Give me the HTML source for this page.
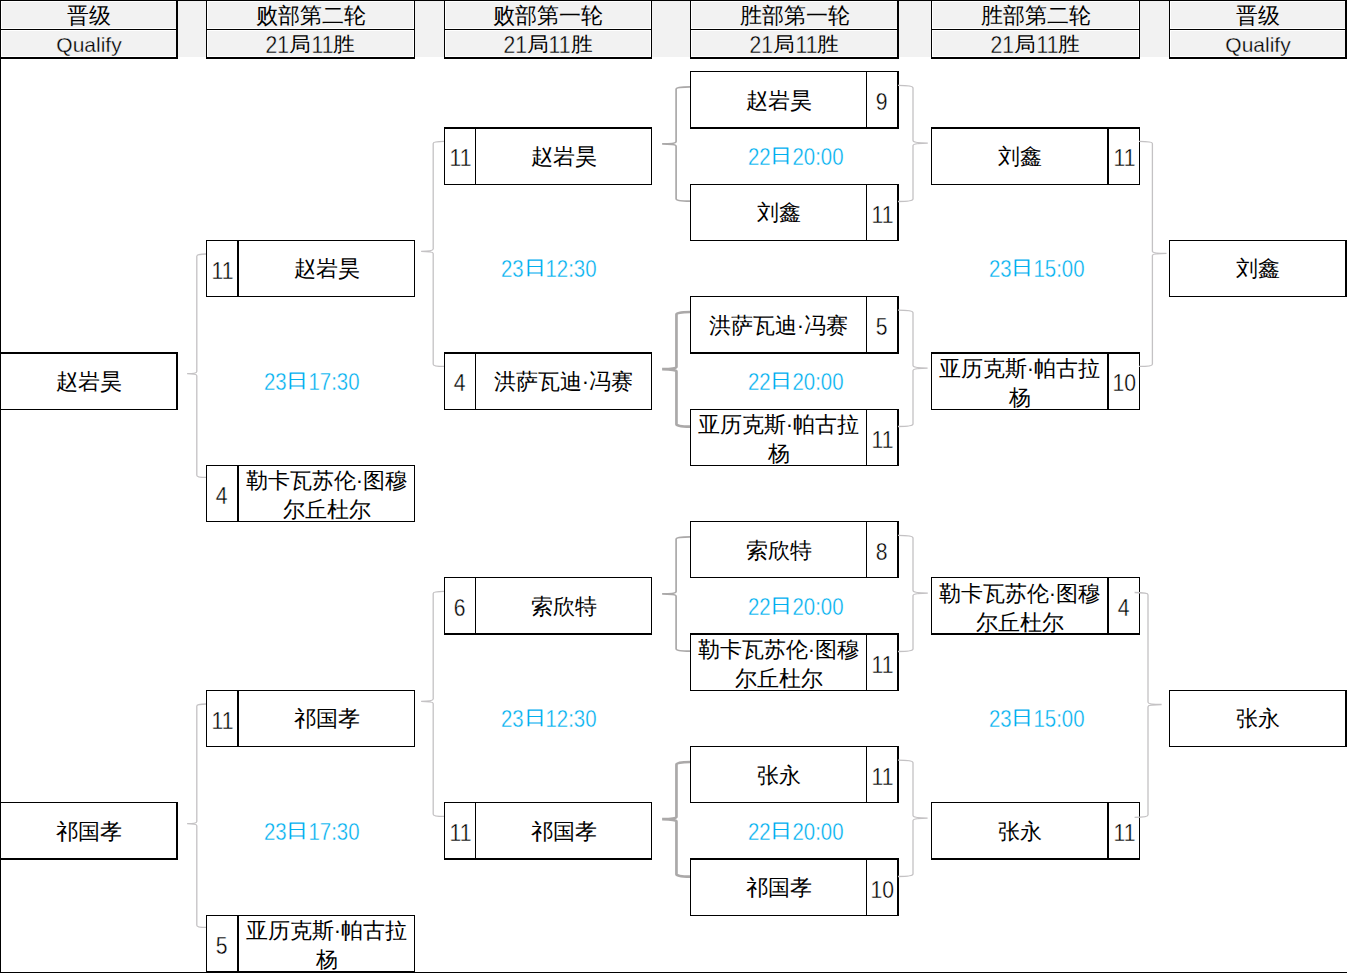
<!DOCTYPE html>
<html><head><meta charset="utf-8"><style>
html,body{margin:0;padding:0;background:#fff;}
body{width:1347px;height:973px;position:relative;overflow:hidden;font-family:"Liberation Sans",sans-serif;color:#000;}
.l{position:absolute;} .cj{display:inline-block;} .hc{transform:translateY(-1px) scaleY(0.92);} .tc{font-size:22px;transform:translateY(-2px) scaleY(0.86);} .dg{display:inline-block;-webkit-text-stroke:0.35px #fff;}
.t{position:absolute;display:flex;align-items:center;justify-content:center;text-align:center;white-space:normal;}
.ht{font-size:22px;padding-top:2px;box-sizing:border-box;}
.ht2{padding-top:4px;box-sizing:border-box;} .q{font-size:21px;-webkit-text-stroke:0.3px #f2f2f2;} .d{font-size:22px;} .d .dg{-webkit-text-stroke-color:#f2f2f2;}
.nm{font-size:22px;line-height:29px;}
.sc{font-size:22px;}
.tm{font-size:21px;color:#00b0f0;}
</style></head><body>
<div style="position:absolute;left:1px;top:1px;width:1345px;height:56px;background:#f2f2f2"></div><div class="l" style="left:0px;top:0px;width:1347px;height:1px;background:#000"></div><div class="l" style="left:1px;top:1px;width:176px;height:56px;border:1px solid #fff;box-sizing:border-box"></div><div class="l" style="left:1px;top:28px;width:176px;height:3px;background:#fff"></div><div class="l" style="left:0px;top:0px;width:1px;height:59px;background:#000"></div><div class="l" style="left:176px;top:0px;width:2px;height:59px;background:#000"></div><div class="l" style="left:0px;top:29px;width:178px;height:1px;background:#000"></div><div class="l" style="left:0px;top:57px;width:178px;height:2px;background:#000"></div><div class="l" style="left:207px;top:1px;width:207px;height:56px;border:1px solid #fff;box-sizing:border-box"></div><div class="l" style="left:207px;top:28px;width:207px;height:3px;background:#fff"></div><div class="l" style="left:206px;top:0px;width:1px;height:59px;background:#000"></div><div class="l" style="left:414px;top:0px;width:1px;height:59px;background:#000"></div><div class="l" style="left:206px;top:29px;width:209px;height:1px;background:#000"></div><div class="l" style="left:206px;top:57px;width:209px;height:2px;background:#000"></div><div class="l" style="left:445px;top:1px;width:206px;height:56px;border:1px solid #fff;box-sizing:border-box"></div><div class="l" style="left:445px;top:28px;width:206px;height:3px;background:#fff"></div><div class="l" style="left:444px;top:0px;width:1px;height:59px;background:#000"></div><div class="l" style="left:651px;top:0px;width:1px;height:59px;background:#000"></div><div class="l" style="left:444px;top:29px;width:208px;height:1px;background:#000"></div><div class="l" style="left:444px;top:57px;width:208px;height:2px;background:#000"></div><div class="l" style="left:691px;top:1px;width:207px;height:56px;border:1px solid #fff;box-sizing:border-box"></div><div class="l" style="left:691px;top:28px;width:207px;height:3px;background:#fff"></div><div class="l" style="left:690px;top:0px;width:1px;height:59px;background:#000"></div><div class="l" style="left:897px;top:0px;width:2px;height:59px;background:#000"></div><div class="l" style="left:690px;top:29px;width:209px;height:1px;background:#000"></div><div class="l" style="left:690px;top:57px;width:209px;height:2px;background:#000"></div><div class="l" style="left:932px;top:1px;width:207px;height:56px;border:1px solid #fff;box-sizing:border-box"></div><div class="l" style="left:932px;top:28px;width:207px;height:3px;background:#fff"></div><div class="l" style="left:931px;top:0px;width:1px;height:59px;background:#000"></div><div class="l" style="left:1139px;top:0px;width:1px;height:59px;background:#000"></div><div class="l" style="left:931px;top:29px;width:209px;height:1px;background:#000"></div><div class="l" style="left:931px;top:57px;width:209px;height:2px;background:#000"></div><div class="l" style="left:1170px;top:1px;width:176px;height:56px;border:1px solid #fff;box-sizing:border-box"></div><div class="l" style="left:1170px;top:28px;width:176px;height:3px;background:#fff"></div><div class="l" style="left:1169px;top:0px;width:1px;height:59px;background:#000"></div><div class="l" style="left:1345px;top:0px;width:2px;height:59px;background:#000"></div><div class="l" style="left:1169px;top:29px;width:178px;height:1px;background:#000"></div><div class="l" style="left:1169px;top:57px;width:178px;height:2px;background:#000"></div><div class="l" style="left:0px;top:0px;width:1px;height:973px;background:#000"></div><div class="l" style="left:0px;top:972px;width:1347px;height:1px;background:#000"></div><div class="l" style="left:0px;top:352px;width:178px;height:2px;background:#000"></div><div class="l" style="left:0px;top:409px;width:178px;height:1px;background:#000"></div><div class="l" style="left:0px;top:352px;width:1px;height:58px;background:#000"></div><div class="l" style="left:176px;top:352px;width:2px;height:58px;background:#000"></div><div class="l" style="left:0px;top:802px;width:178px;height:1px;background:#000"></div><div class="l" style="left:0px;top:858px;width:178px;height:2px;background:#000"></div><div class="l" style="left:0px;top:802px;width:1px;height:58px;background:#000"></div><div class="l" style="left:176px;top:802px;width:2px;height:58px;background:#000"></div><div class="l" style="left:206px;top:240px;width:209px;height:1px;background:#000"></div><div class="l" style="left:206px;top:296px;width:209px;height:1px;background:#000"></div><div class="l" style="left:206px;top:240px;width:1px;height:57px;background:#000"></div><div class="l" style="left:414px;top:240px;width:1px;height:57px;background:#000"></div><div class="l" style="left:237px;top:240px;width:2px;height:57px;background:#000"></div><div class="l" style="left:206px;top:465px;width:209px;height:1px;background:#000"></div><div class="l" style="left:206px;top:521px;width:209px;height:1px;background:#000"></div><div class="l" style="left:206px;top:465px;width:1px;height:57px;background:#000"></div><div class="l" style="left:414px;top:465px;width:1px;height:57px;background:#000"></div><div class="l" style="left:237px;top:465px;width:2px;height:57px;background:#000"></div><div class="l" style="left:206px;top:690px;width:209px;height:1px;background:#000"></div><div class="l" style="left:206px;top:746px;width:209px;height:1px;background:#000"></div><div class="l" style="left:206px;top:690px;width:1px;height:57px;background:#000"></div><div class="l" style="left:414px;top:690px;width:1px;height:57px;background:#000"></div><div class="l" style="left:237px;top:690px;width:2px;height:57px;background:#000"></div><div class="l" style="left:206px;top:915px;width:209px;height:1px;background:#000"></div><div class="l" style="left:206px;top:971px;width:209px;height:2px;background:#000"></div><div class="l" style="left:206px;top:915px;width:1px;height:58px;background:#000"></div><div class="l" style="left:414px;top:915px;width:1px;height:58px;background:#000"></div><div class="l" style="left:237px;top:915px;width:2px;height:58px;background:#000"></div><div class="l" style="left:444px;top:127px;width:208px;height:2px;background:#000"></div><div class="l" style="left:444px;top:184px;width:208px;height:1px;background:#000"></div><div class="l" style="left:444px;top:127px;width:1px;height:58px;background:#000"></div><div class="l" style="left:651px;top:127px;width:1px;height:58px;background:#000"></div><div class="l" style="left:475px;top:128px;width:1px;height:57px;background:#000"></div><div class="l" style="left:444px;top:352px;width:208px;height:2px;background:#000"></div><div class="l" style="left:444px;top:409px;width:208px;height:1px;background:#000"></div><div class="l" style="left:444px;top:352px;width:1px;height:58px;background:#000"></div><div class="l" style="left:651px;top:352px;width:1px;height:58px;background:#000"></div><div class="l" style="left:475px;top:353px;width:1px;height:57px;background:#000"></div><div class="l" style="left:444px;top:577px;width:208px;height:1px;background:#000"></div><div class="l" style="left:444px;top:633px;width:208px;height:2px;background:#000"></div><div class="l" style="left:444px;top:577px;width:1px;height:58px;background:#000"></div><div class="l" style="left:651px;top:577px;width:1px;height:58px;background:#000"></div><div class="l" style="left:475px;top:577px;width:1px;height:58px;background:#000"></div><div class="l" style="left:444px;top:802px;width:208px;height:1px;background:#000"></div><div class="l" style="left:444px;top:858px;width:208px;height:2px;background:#000"></div><div class="l" style="left:444px;top:802px;width:1px;height:58px;background:#000"></div><div class="l" style="left:651px;top:802px;width:1px;height:58px;background:#000"></div><div class="l" style="left:475px;top:802px;width:1px;height:58px;background:#000"></div><div class="l" style="left:690px;top:71px;width:209px;height:1px;background:#000"></div><div class="l" style="left:690px;top:127px;width:209px;height:2px;background:#000"></div><div class="l" style="left:690px;top:71px;width:1px;height:58px;background:#000"></div><div class="l" style="left:897px;top:71px;width:2px;height:58px;background:#000"></div><div class="l" style="left:866px;top:71px;width:1px;height:58px;background:#000"></div><div class="l" style="left:690px;top:184px;width:209px;height:1px;background:#000"></div><div class="l" style="left:690px;top:240px;width:209px;height:1px;background:#000"></div><div class="l" style="left:690px;top:184px;width:1px;height:57px;background:#000"></div><div class="l" style="left:897px;top:184px;width:2px;height:57px;background:#000"></div><div class="l" style="left:866px;top:184px;width:1px;height:57px;background:#000"></div><div class="l" style="left:690px;top:296px;width:209px;height:1px;background:#000"></div><div class="l" style="left:690px;top:352px;width:209px;height:2px;background:#000"></div><div class="l" style="left:690px;top:296px;width:1px;height:58px;background:#000"></div><div class="l" style="left:897px;top:296px;width:2px;height:58px;background:#000"></div><div class="l" style="left:866px;top:296px;width:1px;height:58px;background:#000"></div><div class="l" style="left:690px;top:409px;width:209px;height:1px;background:#000"></div><div class="l" style="left:690px;top:465px;width:209px;height:1px;background:#000"></div><div class="l" style="left:690px;top:409px;width:1px;height:57px;background:#000"></div><div class="l" style="left:897px;top:409px;width:2px;height:57px;background:#000"></div><div class="l" style="left:866px;top:409px;width:1px;height:57px;background:#000"></div><div class="l" style="left:690px;top:521px;width:209px;height:1px;background:#000"></div><div class="l" style="left:690px;top:577px;width:209px;height:1px;background:#000"></div><div class="l" style="left:690px;top:521px;width:1px;height:57px;background:#000"></div><div class="l" style="left:897px;top:521px;width:2px;height:57px;background:#000"></div><div class="l" style="left:866px;top:521px;width:1px;height:57px;background:#000"></div><div class="l" style="left:690px;top:633px;width:209px;height:2px;background:#000"></div><div class="l" style="left:690px;top:690px;width:209px;height:1px;background:#000"></div><div class="l" style="left:690px;top:633px;width:1px;height:58px;background:#000"></div><div class="l" style="left:897px;top:633px;width:2px;height:58px;background:#000"></div><div class="l" style="left:866px;top:634px;width:1px;height:57px;background:#000"></div><div class="l" style="left:690px;top:746px;width:209px;height:1px;background:#000"></div><div class="l" style="left:690px;top:802px;width:209px;height:1px;background:#000"></div><div class="l" style="left:690px;top:746px;width:1px;height:57px;background:#000"></div><div class="l" style="left:897px;top:746px;width:2px;height:57px;background:#000"></div><div class="l" style="left:866px;top:746px;width:1px;height:57px;background:#000"></div><div class="l" style="left:690px;top:858px;width:209px;height:2px;background:#000"></div><div class="l" style="left:690px;top:915px;width:209px;height:1px;background:#000"></div><div class="l" style="left:690px;top:858px;width:1px;height:58px;background:#000"></div><div class="l" style="left:897px;top:858px;width:2px;height:58px;background:#000"></div><div class="l" style="left:866px;top:859px;width:1px;height:57px;background:#000"></div><div class="l" style="left:931px;top:127px;width:209px;height:2px;background:#000"></div><div class="l" style="left:931px;top:184px;width:209px;height:1px;background:#000"></div><div class="l" style="left:931px;top:127px;width:1px;height:58px;background:#000"></div><div class="l" style="left:1139px;top:127px;width:1px;height:58px;background:#000"></div><div class="l" style="left:1107px;top:128px;width:2px;height:57px;background:#000"></div><div class="l" style="left:931px;top:352px;width:209px;height:2px;background:#000"></div><div class="l" style="left:931px;top:409px;width:209px;height:1px;background:#000"></div><div class="l" style="left:931px;top:352px;width:1px;height:58px;background:#000"></div><div class="l" style="left:1139px;top:352px;width:1px;height:58px;background:#000"></div><div class="l" style="left:1107px;top:353px;width:2px;height:57px;background:#000"></div><div class="l" style="left:931px;top:577px;width:209px;height:1px;background:#000"></div><div class="l" style="left:931px;top:633px;width:209px;height:2px;background:#000"></div><div class="l" style="left:931px;top:577px;width:1px;height:58px;background:#000"></div><div class="l" style="left:1139px;top:577px;width:1px;height:58px;background:#000"></div><div class="l" style="left:1107px;top:577px;width:2px;height:58px;background:#000"></div><div class="l" style="left:931px;top:802px;width:209px;height:1px;background:#000"></div><div class="l" style="left:931px;top:858px;width:209px;height:2px;background:#000"></div><div class="l" style="left:931px;top:802px;width:1px;height:58px;background:#000"></div><div class="l" style="left:1139px;top:802px;width:1px;height:58px;background:#000"></div><div class="l" style="left:1107px;top:802px;width:2px;height:58px;background:#000"></div><div class="l" style="left:1169px;top:240px;width:178px;height:1px;background:#000"></div><div class="l" style="left:1169px;top:296px;width:178px;height:1px;background:#000"></div><div class="l" style="left:1169px;top:240px;width:1px;height:57px;background:#000"></div><div class="l" style="left:1345px;top:240px;width:2px;height:57px;background:#000"></div><div class="l" style="left:1169px;top:690px;width:178px;height:1px;background:#000"></div><div class="l" style="left:1169px;top:746px;width:178px;height:1px;background:#000"></div><div class="l" style="left:1169px;top:690px;width:1px;height:57px;background:#000"></div><div class="l" style="left:1345px;top:690px;width:2px;height:57px;background:#000"></div>
<svg class="l" width="1347" height="973" style="left:0;top:0"><path d="M206,254 Q196.8,254 196.8,256.2 L196.8,371.40000000000003 Q196.8,373.6 187.1,373.6 Q196.8,373.6 196.8,375.8 L196.8,475.2 Q196.8,477.4 206,477.4" fill="none" stroke="#c4c2c4" stroke-width="1.3"/><path d="M444,141.4 Q433.2,141.4 433.2,143.6 L433.2,249.10000000000002 Q433.2,251.3 421.1,251.3 Q433.2,251.3 433.2,253.5 L433.2,364.2 Q433.2,366.4 444,366.4" fill="none" stroke="#c4c2c4" stroke-width="1.3"/><path d="M690,86.9 Q676.1,86.9 676.1,89.30000000000001 L676.1,141.5 Q676.1,143.9 662.1,143.9 Q676.1,143.9 676.1,146.3 L676.1,198.79999999999998 Q676.1,201.2 690,201.2" fill="none" stroke="#aba9a9" stroke-width="1.7"/><path d="M690,312 Q676.45,312 676.45,314.4 L676.45,366.8 Q676.45,369.2 662.1,369.2 Q676.45,369.2 676.45,371.59999999999997 L676.45,424.20000000000005 Q676.45,426.6 690,426.6" fill="none" stroke="#aba9a9" stroke-width="2.7"/><path d="M898,85.4 Q913,85.4 913,87.9 L913,140.6 Q913,143.1 927.8,143.1 Q913,143.1 913,145.6 L913,199.0 Q913,201.5 898,201.5" fill="none" stroke="#c4c2c4" stroke-width="1.3"/><path d="M898,310.2 Q913,310.2 913,312.7 L913,365.6 Q913,368.1 927.6,368.1 Q913,368.1 913,370.6 L913,424.0 Q913,426.5 898,426.5" fill="none" stroke="#c4c2c4" stroke-width="1.3"/><path d="M206,704 Q196.8,704 196.8,706.2 L196.8,821.4 Q196.8,823.6 187.1,823.6 Q196.8,823.6 196.8,825.8000000000001 L196.8,925.1999999999999 Q196.8,927.4 206,927.4" fill="none" stroke="#c4c2c4" stroke-width="1.3"/><path d="M444,591.4 Q433.2,591.4 433.2,593.6 L433.2,699.0999999999999 Q433.2,701.3 421.1,701.3 Q433.2,701.3 433.2,703.5 L433.2,814.1999999999999 Q433.2,816.4 444,816.4" fill="none" stroke="#c4c2c4" stroke-width="1.3"/><path d="M690,536.9 Q676.1,536.9 676.1,539.3 L676.1,591.5 Q676.1,593.9 662.1,593.9 Q676.1,593.9 676.1,596.3 L676.1,648.8000000000001 Q676.1,651.2 690,651.2" fill="none" stroke="#aba9a9" stroke-width="1.7"/><path d="M690,762 Q676.45,762 676.45,764.4 L676.45,816.8000000000001 Q676.45,819.2 662.1,819.2 Q676.45,819.2 676.45,821.6 L676.45,874.2 Q676.45,876.6 690,876.6" fill="none" stroke="#aba9a9" stroke-width="2.7"/><path d="M898,535.4 Q913,535.4 913,537.9 L913,590.6 Q913,593.1 927.8,593.1 Q913,593.1 913,595.6 L913,649.0 Q913,651.5 898,651.5" fill="none" stroke="#c4c2c4" stroke-width="1.3"/><path d="M898,760.2 Q913,760.2 913,762.7 L913,815.6 Q913,818.1 927.6,818.1 Q913,818.1 913,820.6 L913,874.0 Q913,876.5 898,876.5" fill="none" stroke="#c4c2c4" stroke-width="1.3"/><path d="M1139,141.4 Q1152.4,141.4 1152.4,143.6 L1152.4,251.20000000000002 Q1152.4,253.4 1166.5,253.4 Q1152.4,253.4 1152.4,255.6 L1152.4,364.2 Q1152.4,366.4 1139,366.4" fill="none" stroke="#c4c2c4" stroke-width="1.3"/><path d="M1134.6,592.5 Q1148,592.5 1148,594.7 L1148,702.3 Q1148,704.5 1161.6,704.5 Q1148,704.5 1148,706.7 L1148,815.0999999999999 Q1148,817.3 1134.6,817.3" fill="none" stroke="#c4c2c4" stroke-width="1.3"/></svg>
<div class="t ht" style="left:0px;width:178px;top:0px;height:29px;line-height:29px">晋级</div><div class="t ht2 q" style="left:0px;width:178px;top:29px;height:28px;line-height:28px">Qualify</div><div class="t ht" style="left:206px;width:209px;top:0px;height:29px;line-height:29px">败部第二轮</div><div class="t ht2 d" style="left:206px;width:209px;top:29px;height:28px;line-height:28px"><span><span class="dg" style="font-size:24px;margin:0 -1.60px;transform:scaleX(0.88)">21</span><span class="cj hc">局</span><span class="dg" style="font-size:24px;margin:0 -1.60px;transform:scaleX(0.88)">11</span><span class="cj hc">胜</span></span></div><div class="t ht" style="left:444px;width:208px;top:0px;height:29px;line-height:29px">败部第一轮</div><div class="t ht2 d" style="left:444px;width:208px;top:29px;height:28px;line-height:28px"><span><span class="dg" style="font-size:24px;margin:0 -1.60px;transform:scaleX(0.88)">21</span><span class="cj hc">局</span><span class="dg" style="font-size:24px;margin:0 -1.60px;transform:scaleX(0.88)">11</span><span class="cj hc">胜</span></span></div><div class="t ht" style="left:690px;width:209px;top:0px;height:29px;line-height:29px">胜部第一轮</div><div class="t ht2 d" style="left:690px;width:209px;top:29px;height:28px;line-height:28px"><span><span class="dg" style="font-size:24px;margin:0 -1.60px;transform:scaleX(0.88)">21</span><span class="cj hc">局</span><span class="dg" style="font-size:24px;margin:0 -1.60px;transform:scaleX(0.88)">11</span><span class="cj hc">胜</span></span></div><div class="t ht" style="left:931px;width:209px;top:0px;height:29px;line-height:29px">胜部第二轮</div><div class="t ht2 d" style="left:931px;width:209px;top:29px;height:28px;line-height:28px"><span><span class="dg" style="font-size:24px;margin:0 -1.60px;transform:scaleX(0.88)">21</span><span class="cj hc">局</span><span class="dg" style="font-size:24px;margin:0 -1.60px;transform:scaleX(0.88)">11</span><span class="cj hc">胜</span></span></div><div class="t ht" style="left:1169px;width:178px;top:0px;height:29px;line-height:29px">晋级</div><div class="t ht2 q" style="left:1169px;width:178px;top:29px;height:28px;line-height:28px">Qualify</div>
<div class="t nm" style="left:1px;width:175px;top:351.38px;height:60px">赵岩昊</div><div class="t nm" style="left:1px;width:175px;top:801.38px;height:60px">祁国孝</div><div class="t sc" style="left:207px;width:30px;top:240.88px;height:60px"><span><span class="dg" style="font-size:24px;margin:0 -1.60px;transform:scaleX(0.88)">11</span></span></div><div class="t nm" style="left:239px;width:175px;top:238.88px;height:60px">赵岩昊</div><div class="t sc" style="left:207px;width:30px;top:465.88px;height:60px"><span><span class="dg" style="font-size:24px;margin:0 -0.80px;transform:scaleX(0.88)">4</span></span></div><div class="t nm" style="left:239px;width:175px;top:465.07px;height:60px">勒卡瓦苏伦·图穆尔丘杜尔</div><div class="t sc" style="left:207px;width:30px;top:690.88px;height:60px"><span><span class="dg" style="font-size:24px;margin:0 -1.60px;transform:scaleX(0.88)">11</span></span></div><div class="t nm" style="left:239px;width:175px;top:688.88px;height:60px">祁国孝</div><div class="t sc" style="left:207px;width:30px;top:915.88px;height:60px"><span><span class="dg" style="font-size:24px;margin:0 -0.80px;transform:scaleX(0.88)">5</span></span></div><div class="t nm" style="left:239px;width:175px;top:915.08px;height:60px">亚历克斯·帕古拉杨</div><div class="t sc" style="left:445px;width:30px;top:128.38px;height:60px"><span><span class="dg" style="font-size:24px;margin:0 -1.60px;transform:scaleX(0.88)">11</span></span></div><div class="t nm" style="left:476px;width:175px;top:126.38px;height:60px">赵岩昊</div><div class="t sc" style="left:445px;width:30px;top:353.38px;height:60px"><span><span class="dg" style="font-size:24px;margin:0 -0.80px;transform:scaleX(0.88)">4</span></span></div><div class="t nm" style="left:476px;width:175px;top:351.38px;height:60px">洪萨瓦迪·冯赛</div><div class="t sc" style="left:445px;width:30px;top:578.38px;height:60px"><span><span class="dg" style="font-size:24px;margin:0 -0.80px;transform:scaleX(0.88)">6</span></span></div><div class="t nm" style="left:476px;width:175px;top:576.38px;height:60px">索欣特</div><div class="t sc" style="left:445px;width:30px;top:803.38px;height:60px"><span><span class="dg" style="font-size:24px;margin:0 -1.60px;transform:scaleX(0.88)">11</span></span></div><div class="t nm" style="left:476px;width:175px;top:801.38px;height:60px">祁国孝</div><div class="t nm" style="left:691px;width:175px;top:70.12px;height:60px">赵岩昊</div><div class="t sc" style="left:867px;width:30px;top:72.12px;height:60px"><span><span class="dg" style="font-size:24px;margin:0 -0.80px;transform:scaleX(0.88)">9</span></span></div><div class="t nm" style="left:691px;width:175px;top:182.62px;height:60px">刘鑫</div><div class="t sc" style="left:867px;width:30px;top:184.62px;height:60px"><span><span class="dg" style="font-size:24px;margin:0 -1.60px;transform:scaleX(0.88)">11</span></span></div><div class="t nm" style="left:691px;width:175px;top:295.12px;height:60px">洪萨瓦迪·冯赛</div><div class="t sc" style="left:867px;width:30px;top:297.12px;height:60px"><span><span class="dg" style="font-size:24px;margin:0 -0.80px;transform:scaleX(0.88)">5</span></span></div><div class="t nm" style="left:691px;width:175px;top:408.82px;height:60px">亚历克斯·帕古拉杨</div><div class="t sc" style="left:867px;width:30px;top:409.62px;height:60px"><span><span class="dg" style="font-size:24px;margin:0 -1.60px;transform:scaleX(0.88)">11</span></span></div><div class="t nm" style="left:691px;width:175px;top:520.12px;height:60px">索欣特</div><div class="t sc" style="left:867px;width:30px;top:522.12px;height:60px"><span><span class="dg" style="font-size:24px;margin:0 -0.80px;transform:scaleX(0.88)">8</span></span></div><div class="t nm" style="left:691px;width:175px;top:633.83px;height:60px">勒卡瓦苏伦·图穆尔丘杜尔</div><div class="t sc" style="left:867px;width:30px;top:634.62px;height:60px"><span><span class="dg" style="font-size:24px;margin:0 -1.60px;transform:scaleX(0.88)">11</span></span></div><div class="t nm" style="left:691px;width:175px;top:745.12px;height:60px">张永</div><div class="t sc" style="left:867px;width:30px;top:747.12px;height:60px"><span><span class="dg" style="font-size:24px;margin:0 -1.60px;transform:scaleX(0.88)">11</span></span></div><div class="t nm" style="left:691px;width:175px;top:857.62px;height:60px">祁国孝</div><div class="t sc" style="left:867px;width:30px;top:859.62px;height:60px"><span><span class="dg" style="font-size:24px;margin:0 -1.60px;transform:scaleX(0.88)">10</span></span></div><div class="t nm" style="left:932px;width:175px;top:126.38px;height:60px">刘鑫</div><div class="t sc" style="left:1109px;width:30px;top:128.38px;height:60px"><span><span class="dg" style="font-size:24px;margin:0 -1.60px;transform:scaleX(0.88)">11</span></span></div><div class="t nm" style="left:932px;width:175px;top:352.57px;height:60px">亚历克斯·帕古拉杨</div><div class="t sc" style="left:1109px;width:30px;top:353.38px;height:60px"><span><span class="dg" style="font-size:24px;margin:0 -1.60px;transform:scaleX(0.88)">10</span></span></div><div class="t nm" style="left:932px;width:175px;top:577.58px;height:60px">勒卡瓦苏伦·图穆尔丘杜尔</div><div class="t sc" style="left:1109px;width:30px;top:578.38px;height:60px"><span><span class="dg" style="font-size:24px;margin:0 -0.80px;transform:scaleX(0.88)">4</span></span></div><div class="t nm" style="left:932px;width:175px;top:801.38px;height:60px">张永</div><div class="t sc" style="left:1109px;width:30px;top:803.38px;height:60px"><span><span class="dg" style="font-size:24px;margin:0 -1.60px;transform:scaleX(0.88)">11</span></span></div><div class="t nm" style="left:1170px;width:175px;top:238.88px;height:60px">刘鑫</div><div class="t nm" style="left:1170px;width:175px;top:688.88px;height:60px">张永</div><div class="t tm" style="left:207px;width:209px;top:352.88px;height:60px"><span><span class="dg" style="font-size:24px;margin:0 -2.00px;transform:scaleX(0.85)">23</span><span class="cj tc">日</span><span class="dg" style="font-size:24px;margin:0 -4.50px;transform:scaleX(0.85)">17:30</span></span></div><div class="t tm" style="left:207px;width:209px;top:802.88px;height:60px"><span><span class="dg" style="font-size:24px;margin:0 -2.00px;transform:scaleX(0.85)">23</span><span class="cj tc">日</span><span class="dg" style="font-size:24px;margin:0 -4.50px;transform:scaleX(0.85)">17:30</span></span></div><div class="t tm" style="left:445px;width:208px;top:240.38px;height:60px"><span><span class="dg" style="font-size:24px;margin:0 -2.00px;transform:scaleX(0.85)">23</span><span class="cj tc">日</span><span class="dg" style="font-size:24px;margin:0 -4.50px;transform:scaleX(0.85)">12:30</span></span></div><div class="t tm" style="left:445px;width:208px;top:690.38px;height:60px"><span><span class="dg" style="font-size:24px;margin:0 -2.00px;transform:scaleX(0.85)">23</span><span class="cj tc">日</span><span class="dg" style="font-size:24px;margin:0 -4.50px;transform:scaleX(0.85)">12:30</span></span></div><div class="t tm" style="left:691px;width:209px;top:127.88px;height:60px"><span><span class="dg" style="font-size:24px;margin:0 -2.00px;transform:scaleX(0.85)">22</span><span class="cj tc">日</span><span class="dg" style="font-size:24px;margin:0 -4.50px;transform:scaleX(0.85)">20:00</span></span></div><div class="t tm" style="left:691px;width:209px;top:352.88px;height:60px"><span><span class="dg" style="font-size:24px;margin:0 -2.00px;transform:scaleX(0.85)">22</span><span class="cj tc">日</span><span class="dg" style="font-size:24px;margin:0 -4.50px;transform:scaleX(0.85)">20:00</span></span></div><div class="t tm" style="left:691px;width:209px;top:577.88px;height:60px"><span><span class="dg" style="font-size:24px;margin:0 -2.00px;transform:scaleX(0.85)">22</span><span class="cj tc">日</span><span class="dg" style="font-size:24px;margin:0 -4.50px;transform:scaleX(0.85)">20:00</span></span></div><div class="t tm" style="left:691px;width:209px;top:802.88px;height:60px"><span><span class="dg" style="font-size:24px;margin:0 -2.00px;transform:scaleX(0.85)">22</span><span class="cj tc">日</span><span class="dg" style="font-size:24px;margin:0 -4.50px;transform:scaleX(0.85)">20:00</span></span></div><div class="t tm" style="left:932px;width:209px;top:240.38px;height:60px"><span><span class="dg" style="font-size:24px;margin:0 -2.00px;transform:scaleX(0.85)">23</span><span class="cj tc">日</span><span class="dg" style="font-size:24px;margin:0 -4.50px;transform:scaleX(0.85)">15:00</span></span></div><div class="t tm" style="left:932px;width:209px;top:690.38px;height:60px"><span><span class="dg" style="font-size:24px;margin:0 -2.00px;transform:scaleX(0.85)">23</span><span class="cj tc">日</span><span class="dg" style="font-size:24px;margin:0 -4.50px;transform:scaleX(0.85)">15:00</span></span></div>
</body></html>
